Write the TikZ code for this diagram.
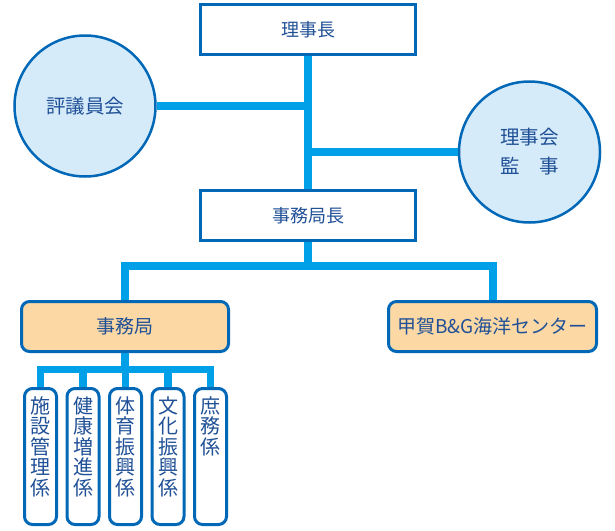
\documentclass[tikz,border=0pt]{standalone}
\usepackage{fontspec}
\usepackage{tikz}
\usetikzlibrary{positioning, calc}
\newfontfamily\jpfont{Noto Sans CJK JP}
\definecolor{senblue}{RGB}{0,160,233}
\definecolor{wakublue}{RGB}{0,104,183}
\definecolor{mojiblue}{RGB}{32,80,150}
\definecolor{maruback}{RGB}{213,235,250}
\definecolor{orangeback}{RGB}{251,216,164}
\newcommand{\tategaki}[1]{\parbox[c][120pt][t]{24pt}{\centering #1}}

\begin{document}
\begin{tikzpicture}[
    x=1pt, y=-1pt,
    node distance=7.5pt,
    yakubox/.style={rectangle, draw=wakublue, line width=3pt, fill=white, minimum width=215pt, minimum height=50pt, text=mojiblue, font=\jpfont\fontsize{18}{22}\selectfont},
    maru/.style={circle, draw=wakublue, line width=2.5pt, fill=maruback, minimum size=141pt, inner sep=0pt, align=center, text=mojiblue, font=\jpfont\fontsize{19.5}{29}\selectfont},
    bubox/.style={rectangle, rounded corners=8pt, draw=wakublue, line width=3pt, fill=orangeback, minimum height=50pt, text=mojiblue, font=\jpfont\fontsize{19}{22}\selectfont},
    kakari/.style={rectangle, rounded corners=8pt, draw=wakublue, line width=3pt, fill=white, minimum width=32pt, minimum height=136pt, inner sep=2pt, text=mojiblue, font=\jpfont\fontsize{20}{20.5}\selectfont},
    trunk/.style={draw=senblue, line width=8pt},
    eda/.style={draw=senblue, line width=7.5pt}
  ]
    \useasboundingbox (0,0) rectangle (615,530);
    \node[yakubox] (rijicho) at (308,29.5) {理事長};
    \node[maru] (hyogiin) at (85,106) {評議員会};
    \node[maru] (rijikai) at (529.5,152) {理事会\\監　事};
    \node[yakubox] (kyokucho) at (308,215.5) {事務局長};
    \node[bubox, minimum width=207pt] (jimukyoku) at (125,326.5) {事務局};
    \node[bubox, minimum width=208pt] (center) at (492.5,326.5) {甲賀B\&G海洋センター};
    \node[kakari] (shisetsu) at (40.5,456.5) {\tategaki{施\\設\\管\\理\\係}};
    \node[kakari, right=of shisetsu] (kenko) {\tategaki{健\\康\\増\\進\\係}};
    \node[kakari, right=of kenko] (taiiku) {\tategaki{体\\育\\振\\興\\係}};
    \node[kakari, right=of taiiku] (bunka) {\tategaki{文\\化\\振\\興\\係}};
    \node[kakari, right=of bunka] (shomu) {\tategaki{庶\\務\\係}};
    \coordinate (bunki) at (308,266);
    \coordinate (kbunki) at (125,369.5);
    \draw[trunk] (rijicho) -- (kyokucho);
    \draw[trunk] (hyogiin) -- (hyogiin -| rijicho);
    \draw[trunk] (rijikai) -- (rijikai -| rijicho);
    \draw[trunk] (kyokucho) -- (bunki);
    \draw[trunk] (jimukyoku) |- (bunki) -| (center);
    \draw[eda] (jimukyoku) -- (kbunki);
    \draw[eda] (shisetsu) |- (kbunki) -| (shomu);
    \draw[eda] (kenko) -- (kenko |- kbunki);
    \draw[eda] (taiiku) -- (taiiku |- kbunki);
    \draw[eda] (bunka) -- (bunka |- kbunki);
  \end{tikzpicture}
\end{document}
